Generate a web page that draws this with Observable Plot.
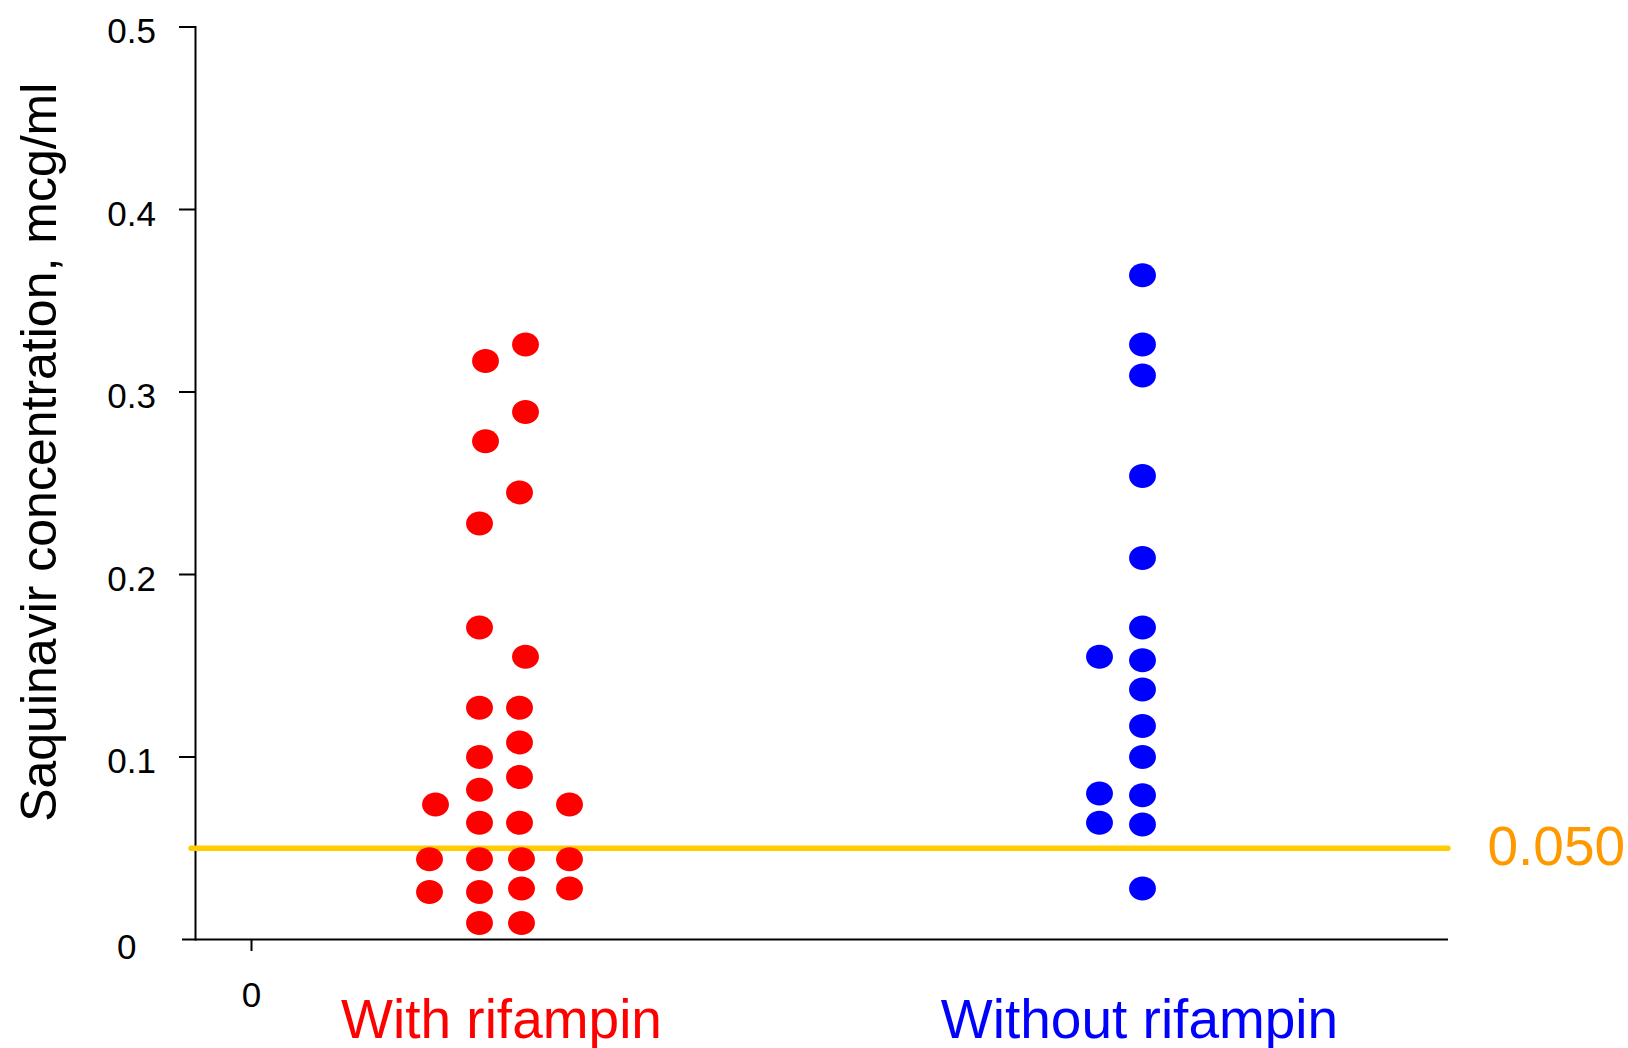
<!DOCTYPE html>
<html><head><meta charset="utf-8">
<script src="https://cdn.jsdelivr.net/npm/d3@7"></script>
<script src="https://cdn.jsdelivr.net/npm/@observablehq/plot@0.6"></script>
<style>html,body{margin:0;padding:0;background:#fff;} #chart{width:1628px;height:1048px;}</style>
</head><body><div id="chart"></div>
<script>
// ---- data ----
const groups = ["With rifampin", "Without rifampin"];
const groupLabelX = [2.49, 8.87];
const groupColors = ["#ff0000", "#0000ff"];

const withX = [2.73, 2.33, 2.73, 2.33, 2.67, 2.27, 2.27, 2.73, 2.27, 2.67, 2.67, 2.27, 2.67, 2.27, 1.83, 3.17, 2.27, 2.67, 1.77, 2.27, 2.69, 3.17, 1.77, 2.27, 2.69, 3.17, 2.27, 2.69];
const withY = [0.326, 0.317, 0.289, 0.273, 0.245, 0.228, 0.171, 0.155, 0.127, 0.127, 0.108, 0.100, 0.089, 0.082, 0.074, 0.074, 0.064, 0.064, 0.044, 0.044, 0.044, 0.044, 0.026, 0.026, 0.028, 0.028, 0.009, 0.009];

const withoutX = [8.90, 8.90, 8.90, 8.90, 8.90, 8.90, 8.47, 8.90, 8.90, 8.90, 8.90, 8.47, 8.90, 8.47, 8.90, 8.90];
const withoutY = [0.364, 0.326, 0.309, 0.254, 0.209, 0.171, 0.155, 0.153, 0.137, 0.117, 0.100, 0.080, 0.079, 0.064, 0.063, 0.028];

const yTicks = [0.1, 0.2, 0.3, 0.4, 0.5];
const yZeroLabel = "0";
const xTicks = [0];
const threshold = 0.05;
const thresholdLabel = "0.050";
const yLabel = "Saquinavir concentration, mcg/ml";

// ---- build tables ----
const withData = withX.map((x, i) => ({x, y: withY[i]}));
const withoutData = withoutX.map((x, i) => ({x, y: withoutY[i]}));

function ellipseSymbol(aspect) {
  return {
    draw(ctx, size) {
      const r = Math.sqrt(size / Math.PI);
      const rx = r * aspect, ry = r, k = 0.5522847498;
      ctx.moveTo(rx, 0);
      ctx.bezierCurveTo(rx, k * ry, k * rx, ry, 0, ry);
      ctx.bezierCurveTo(-k * rx, ry, -rx, k * ry, -rx, 0);
      ctx.bezierCurveTo(-rx, -k * ry, -k * rx, -ry, 0, -ry);
      ctx.bezierCurveTo(k * rx, -ry, rx, -k * ry, rx, 0);
      ctx.closePath();
    }
  };
}
const ell = ellipseSymbol(1.12);
const font = "'Liberation Sans', Arial, Helvetica, sans-serif";

const plot = Plot.plot({
  width: 1628,
  height: 1048,
  marginLeft: 182,
  marginRight: 180,
  marginTop: 26.5,
  marginBottom: 109,
  x: {domain: [-0.70, 11.96], axis: null},
  y: {domain: [0, 0.5], axis: null},
  style: {background: "white", fontFamily: font, overflow: "visible", color: "black"},
  marks: [
    // y axis line and ticks
    Plot.frame({anchor: "left", dx: 13, stroke: "black", strokeWidth: 2}),
    Plot.axisY({ticks: yTicks, tickSize: 16, dx: 13, tickFormat: () => "", strokeWidth: 2, label: null}),
    Plot.axisY({ticks: yTicks, tickSize: 0, tickPadding: 26.5, dy: 4.8, fontSize: 35, label: null, tickFormat: d => String(d)}),
    Plot.text([yZeroLabel], {y: () => 0, text: d => d, frameAnchor: "left", textAnchor: "end", dx: -46, dy: 8, fontSize: 35}),
    // x axis line and tick
    Plot.ruleY([0], {stroke: "black", strokeWidth: 2}),
    Plot.axisX({ticks: xTicks, tickSize: 12, tickPadding: 31, fontSize: 35, dx: -1, strokeWidth: 2, label: null}),
    // threshold
    Plot.ruleY([threshold], {stroke: "#ffcc00", strokeWidth: 5.3, strokeLinecap: "round", insetLeft: 9, insetRight: 0}),
    Plot.text([thresholdLabel], {y: () => threshold, text: d => d, frameAnchor: "right", textAnchor: "start", dx: 39, dy: -1, fill: "#ff9900", fontSize: 55}),
    // dots
    Plot.dot(withData, {x: "x", y: "y", r: 12, fill: groupColors[0], stroke: "none", symbol: ell}),
    Plot.dot(withoutData, {x: "x", y: "y", r: 12, fill: groupColors[1], stroke: "none", symbol: ell}),
    // group labels
    ...groups.map((g, i) => Plot.text([g], {x: () => groupLabelX[i], text: d => d, frameAnchor: "bottom", lineAnchor: "bottom", dy: 98, fill: groupColors[i], fontSize: 55})),
    // y label
    Plot.text([yLabel], {text: d => d, frameAnchor: "left", rotate: -90, textAnchor: "middle", lineAnchor: "bottom", dx: -127, dy: -31, fontSize: 50})
  ]
});
document.getElementById("chart").appendChild(plot);
</script>
</body></html>
